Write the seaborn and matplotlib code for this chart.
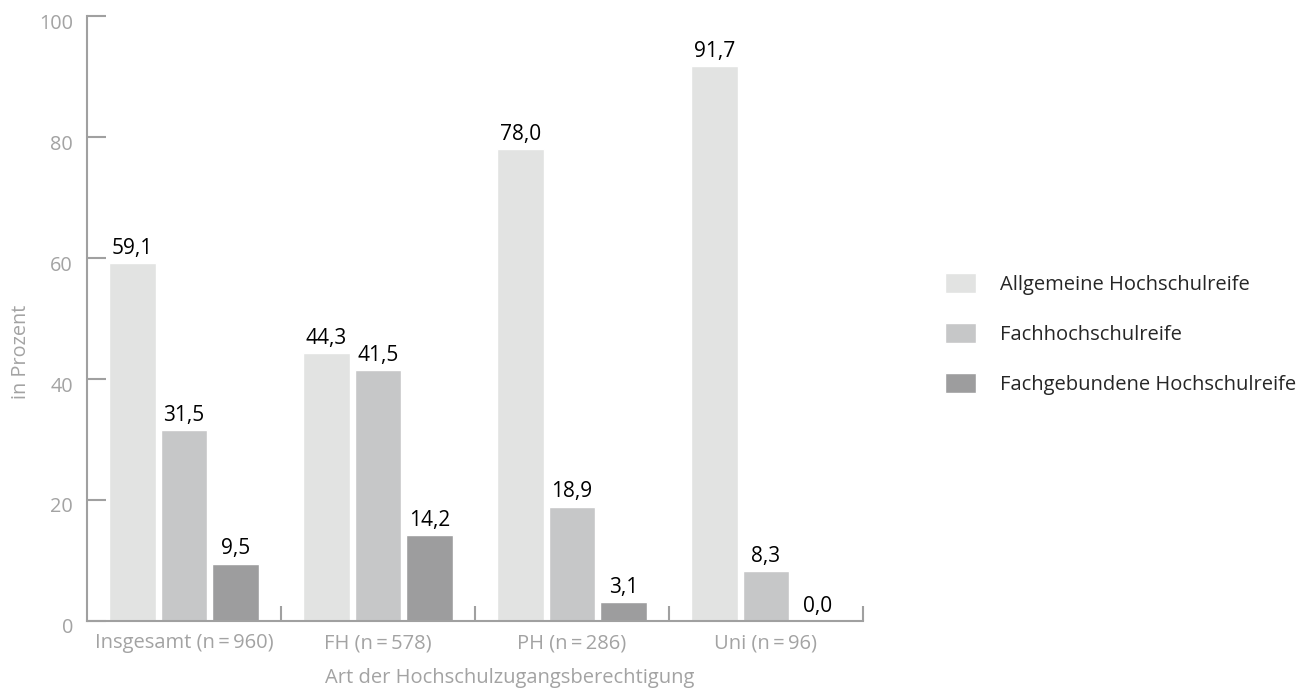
import matplotlib
matplotlib.use("Agg")
import matplotlib.pyplot as plt
from matplotlib.transforms import ScaledTranslation
import numpy as np
import pandas as pd
import seaborn as sns

# Hochschulart (Gruppen auf der x-Achse)
groups = ["Insgesamt (n\u2009=\u2009960)", "FH (n\u2009=\u2009578)",
          "PH (n\u2009=\u2009286)", "Uni (n\u2009=\u200996)"]
# Art der Hochschulzugangsberechtigung (Serien)
series = ["Allgemeine Hochschulreife", "Fachhochschulreife",
          "Fachgebundene Hochschulreife"]
allgemeine = [59.1, 44.3, 78.0, 91.7]
fachhochschulreife = [31.5, 41.5, 18.9, 8.3]
fachgebundene = [9.5, 14.2, 3.1, 0.0]

yticks = [0, 20, 40, 60, 80, 100]
xlabel = "Art der Hochschulzugangsberechtigung"
ylabel = "in Prozent"

colors = ["#e2e3e2", "#c6c7c8", "#9d9d9e"]
axis_gray = "#a0a0a0"
text_gray = "#a3a3a3"

df = pd.DataFrame({
    "Gruppe": groups * 3,
    "Abschluss": np.repeat(series, len(groups)),
    "Prozent": allgemeine + fachhochschulreife + fachgebundene,
})

sns.set_theme(style="white")
plt.rcParams["font.family"] = ["Open Sans", "DejaVu Sans"]

fig = plt.figure(figsize=(13.02, 6.88), dpi=100)
ax = fig.add_axes([0.0668, 0.0974, 0.596, 0.8793])

sns.barplot(data=df, x="Gruppe", y="Prozent", hue="Abschluss",
            hue_order=series, order=groups, palette=colors,
            width=0.8, gap=0.1, saturation=1, errorbar=None, ax=ax)

# value labels above each bar
for cont in ax.containers:
    ax.bar_label(cont, fmt=lambda v: f"{v:.1f}".replace(".", ","),
                 padding=3, fontsize=15, color="black")

ax.set_xlim(-0.5, len(groups) - 0.5)
ax.set_ylim(0, 100)
ax.set_yticks(yticks)
ax.set_yticklabels([str(t) for t in yticks])

# spines
for side in ["top", "right"]:
    ax.spines[side].set_visible(False)
for side in ["left", "bottom"]:
    ax.spines[side].set_color(axis_gray)
    ax.spines[side].set_linewidth(1.5)

# y ticks pointing inwards
ax.tick_params(axis="y", direction="in", length=14, width=1.5,
               color=axis_gray, labelcolor=text_gray, labelsize=14.3, pad=10,
               left=True)
offset = ScaledTranslation(0, -5 / 100, fig.dpi_scale_trans)
for lab in ax.get_yticklabels():
    lab.set_transform(lab.get_transform() + offset)

# category labels without ticks, separators between groups as minor ticks
ax.tick_params(axis="x", which="major", length=0, labelcolor=text_gray,
               labelsize=14.5, pad=9)
ax.set_xticks(np.arange(len(groups)) + 0.5, minor=True)
ax.tick_params(axis="x", which="minor", direction="in", length=11,
               width=1.5, color=axis_gray, bottom=True)

ax.set_xlabel(xlabel, fontsize=14.5, color=text_gray)
ax.xaxis.set_label_coords(0.545, -0.078)
ax.set_ylabel(ylabel, fontsize=14.3, color=text_gray)
ax.yaxis.set_label_coords(-0.072, 0.445)

sns.move_legend(ax, loc="upper left", bbox_to_anchor=(0.7258, 0.6035),
                bbox_transform=fig.transFigure, frameon=False, title=None,
                fontsize=14.5, handlelength=1.55, handleheight=1.15,
                handletextpad=1.2, labelspacing=1.4, borderpad=0,
                borderaxespad=0)

fig.savefig("out.png", dpi=100)
